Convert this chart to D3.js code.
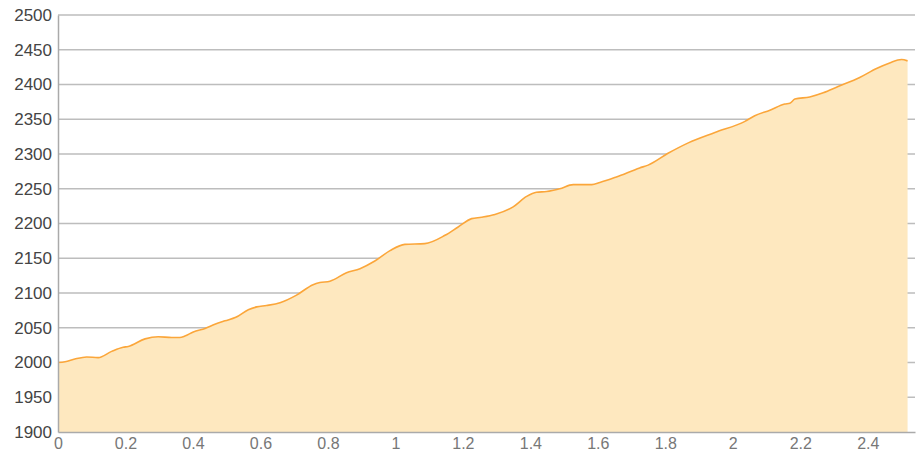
<!DOCTYPE html>
<html>
<head>
<meta charset="utf-8">
<script src="https://cdn.jsdelivr.net/npm/d3@7"></script>
<style>
  html, body { margin: 0; padding: 0; background: #fff; }
  svg { display: block; }
  .tick text { font-family: "Liberation Sans", Arial, Helvetica, sans-serif; }
</style>
</head>
<body>
<svg id="chart" width="917" height="458"></svg>
<script>
// Elevation profile: distance (km) vs altitude (m)
const distances = [
  0, 0.021, 0.050, 0.085, 0.119, 0.159, 0.193, 0.208, 0.258, 0.297,
  0.337, 0.361, 0.376, 0.401, 0.436, 0.465, 0.495, 0.527, 0.564, 0.589,
  0.618, 0.658, 0.707, 0.756, 0.776, 0.806, 0.855, 0.895, 0.939, 0.984,
  1.028, 1.087, 1.147, 1.186, 1.226, 1.255, 1.295, 1.349, 1.389, 1.418,
  1.448, 1.487, 1.527, 1.582, 1.606, 1.655, 1.724, 1.749, 1.808, 1.868,
  1.947, 2.036, 2.065, 2.110, 2.154, 2.169, 2.184, 2.228, 2.268, 2.312,
  2.376, 2.426, 2.465, 2.500, 2.518
];
const elevations = [
  2000, 2001, 2005, 2008, 2007, 2016, 2022, 2023, 2034, 2037,
  2036, 2036, 2038, 2044, 2049, 2055, 2060, 2065, 2076, 2080,
  2082, 2086, 2097, 2112, 2115, 2117, 2129, 2135, 2146, 2161,
  2170, 2171, 2183, 2195, 2207, 2209, 2213, 2224, 2239, 2245,
  2246, 2250, 2256, 2256, 2259, 2267, 2280, 2284, 2301, 2316,
  2331, 2347, 2355, 2363, 2372, 2373, 2379, 2382, 2388, 2397,
  2410, 2423, 2431, 2436, 2434
];
const xTicks = [0, 0.2, 0.4, 0.6, 0.8, 1, 1.2, 1.4, 1.6, 1.8, 2, 2.2, 2.4];
const yTicks = [1900, 1950, 2000, 2050, 2100, 2150, 2200, 2250, 2300, 2350, 2400, 2450, 2500];

const points = distances.map((d, i) => ({ d, e: elevations[i] }));

const svg = d3.select("#chart");
const plotLeft = 58, plotRight = 915, plotTop = 15, plotBottom = 432;

const x = d3.scaleLinear().domain([0, 2.54]).range([plotLeft, plotRight]);
const y = d3.scaleLinear().domain([1900, 2500]).range([plotBottom, plotTop]);

// horizontal grid lines (drawn beneath the area)
svg.append("g")
  .selectAll("line")
  .data(yTicks.filter(v => v > 1900))
  .join("line")
  .attr("x1", plotLeft).attr("x2", plotRight)
  .attr("y1", d => y(d)).attr("y2", d => y(d))
  .attr("stroke", "#bdbdbd")
  .attr("stroke-width", 1.3);

const area = d3.area()
  .curve(d3.curveMonotoneX)
  .x(p => x(p.d))
  .y0(y(1900))
  .y1(p => y(p.e));

const line = d3.line()
  .curve(d3.curveMonotoneX)
  .x(p => x(p.d))
  .y(p => y(p.e));

svg.append("path")
  .datum(points)
  .attr("d", area)
  .attr("fill", "#fee8bf");

svg.append("path")
  .datum(points)
  .attr("d", line)
  .attr("fill", "none")
  .attr("stroke", "#fba63a")
  .attr("stroke-width", 1.6)
  .attr("stroke-linejoin", "round");

// axes
const yAxis = svg.append("g")
  .attr("transform", `translate(${plotLeft},0)`)
  .call(d3.axisLeft(y).tickValues(yTicks).tickSize(0).tickPadding(6).tickFormat(d3.format("d")));
yAxis.select(".domain").attr("stroke", "#aaaaaa").attr("stroke-width", 1.5);
yAxis.selectAll(".tick text")
  .attr("font-size", 17)
  .attr("fill", "#444");

const xAxis = svg.append("g")
  .attr("transform", `translate(0,${plotBottom})`)
  .call(d3.axisBottom(x).tickValues(xTicks).tickSize(0).tickPadding(6).tickFormat(d => String(d)));
xAxis.select(".domain").attr("stroke", "#aaaaaa").attr("stroke-width", 1.5);
xAxis.selectAll(".tick text")
  .attr("font-size", 16)
  .attr("fill", "#777");
</script>
</body>
</html>
